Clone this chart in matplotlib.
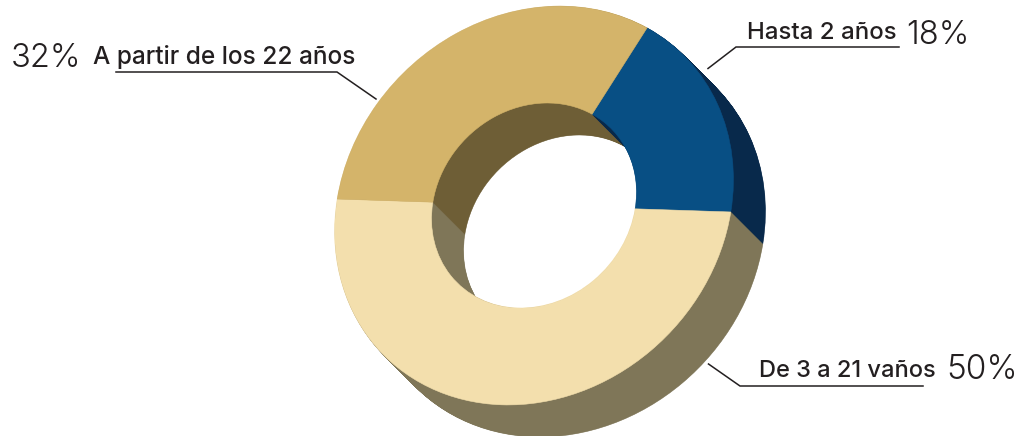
#!/usr/bin/python3
# Extruded donut chart in a tilted view.
# The disc is a pie drawn on the unit circle and stretched along the diagonal,
# the depth is made by stacking the same pie along the other diagonal.
import numpy as np
from matplotlib import pyplot as plt
from matplotlib.transforms import Affine2D

categories = ['Hasta 2 años', 'De 3 a 21 vaños', 'A partir de los 22 años']
percents = [18, 50, 32]

top_colors = ['#084f84', '#f3dfad', '#d4b46a']
side_colors = ['#08294b', '#7f7658', '#6e5e36']
text_color = '#231f20'

W, H = 1031, 436
center_x, center_y = 534, 205.5
long_axis = 212
short_axis = 186
hole_ratio = 0.514
depth = 32
start_angle = 59.2


# Input: y in picture pixels, counted from the top
# Output: y in axes data units
def flip(y):
    return H - y


def draw_ring(ax, offset, colors):
    wedges, _ = ax.pie(
        percents,
        colors = colors,
        startangle = start_angle,
        counterclock = False,
        frame = True,
        wedgeprops = dict(width = 1 - hole_ratio),
    )
    tilt = (Affine2D()
            .rotate_deg(-45)
            .scale(long_axis, short_axis)
            .rotate_deg(45)
            .translate(center_x + offset, flip(center_y + offset)))
    for wedge in wedges:
        wedge.set_transform(tilt + ax.transData)
        # Same colour edge, so no seams show between the slices
        wedge.set_edgecolor(wedge.get_facecolor())
        wedge.set_linewidth(0.4)


def draw_leader(ax, xs, ys):
    ax.plot(xs, [flip(y) for y in ys], color = text_color, lw = 1.1, solid_joinstyle = 'miter')


def draw_text(ax, x, y, label, size, weight, family):
    ax.text(x, flip(y), label, fontsize = size, fontweight = weight, family = family,
            color = text_color, ha = 'left', va = 'baseline')


fig = plt.figure(figsize = (W / 100, H / 100), dpi = 100)
ax = fig.add_axes([0, 0, 1, 1])

#----------------------------------------
# Walls first, from the far end up to the top face
for offset in np.arange(depth, 0, -0.5):
    draw_ring(ax, offset, side_colors)
draw_ring(ax, 0, top_colors)

#----------------------------------------
# Leaders
draw_leader(ax, [899, 736, 708], [47, 47, 68.5])
draw_leader(ax, [923, 740, 708.5], [386, 386, 364])
draw_leader(ax, [116, 337, 376], [72, 72, 99])

#----------------------------------------
# Texts
label_font = 'Inter'
percent_font = 'Inter'
draw_text(ax, 747, 39.5, categories[0], 17.3, 500, label_font)
draw_text(ax, 759, 377, categories[1], 17.0, 500, label_font)
draw_text(ax, 93, 64, categories[2], 17.6, 500, label_font)
draw_text(ax, 906, 44, '%d%%' % percents[0], 23.5, 300, percent_font)
draw_text(ax, 946, 379, '%d%%' % percents[1], 24, 300, percent_font)
draw_text(ax, 11, 67, '%d%%' % percents[2], 23.5, 300, percent_font)

ax.set_xlim(0, W)
ax.set_ylim(0, H)
ax.axis('off')
fig.savefig('out.png', dpi = 100, facecolor = 'white')
